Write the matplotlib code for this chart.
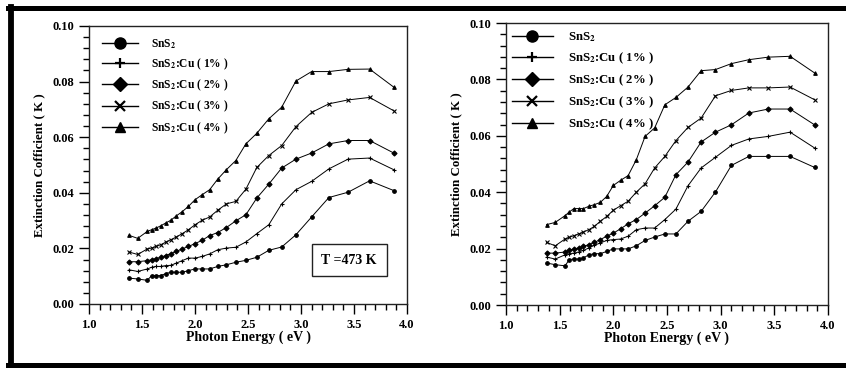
import matplotlib.pyplot as plt
from matplotlib.lines import Line2D
from matplotlib.ticker import MultipleLocator

plt.rcParams['font.family'] = 'Liberation Serif'
plt.rcParams['font.weight'] = 'bold'
plt.rcParams['mathtext.fontset'] = 'stix'
plt.rcParams['mathtext.default'] = 'bf'

# Photon energy (eV), shared by all curves
energy = [1.378, 1.459, 1.550, 1.590, 1.632, 1.676, 1.722, 1.771, 1.824, 1.879,
          1.938, 2.000, 2.067, 2.138, 2.214, 2.296, 2.385, 2.480, 2.583, 2.696,
          2.818, 2.952, 3.100, 3.263, 3.444, 3.647, 3.875]

labels = ['SnS$_2$', 'SnS$_2$:Cu ( 1% )', 'SnS$_2$:Cu ( 2% )',
          'SnS$_2$:Cu ( 3% )', 'SnS$_2$:Cu ( 4% )']
markers = ['o', '+', 'D', 'x', '^']

# left panel (T = 473 K)
k_left_0 = [0.0093, 0.0090, 0.0085, 0.0102, 0.0102, 0.0102, 0.0109, 0.0114, 0.0114, 0.0114,
            0.0120, 0.0126, 0.0126, 0.0126, 0.0135, 0.0141, 0.0150, 0.0157, 0.0168, 0.0193,
            0.0205, 0.0249, 0.0313, 0.0383, 0.0402, 0.0443, 0.0408]
k_left_1 = [0.0123, 0.0117, 0.0126, 0.0132, 0.0135, 0.0135, 0.0138, 0.0139, 0.0147, 0.0156,
            0.0165, 0.0165, 0.0171, 0.0180, 0.0195, 0.0201, 0.0204, 0.0223, 0.0253, 0.0285,
            0.0360, 0.0411, 0.0441, 0.0486, 0.0521, 0.0525, 0.0483]
k_left_2 = [0.0152, 0.0152, 0.0156, 0.0159, 0.0163, 0.0168, 0.0174, 0.0181, 0.0189, 0.0198,
            0.0207, 0.0217, 0.0229, 0.0246, 0.0257, 0.0275, 0.0299, 0.0321, 0.0381, 0.0431,
            0.0489, 0.0521, 0.0543, 0.0576, 0.0588, 0.0588, 0.0543]
k_left_3 = [0.0187, 0.0178, 0.0198, 0.0201, 0.0207, 0.0213, 0.0222, 0.0231, 0.0241, 0.0253,
            0.0267, 0.0285, 0.0301, 0.0313, 0.0337, 0.0360, 0.0369, 0.0413, 0.0491, 0.0534,
            0.0570, 0.0638, 0.0689, 0.0720, 0.0734, 0.0743, 0.0695]
k_left_4 = [0.0247, 0.0236, 0.0261, 0.0267, 0.0273, 0.0281, 0.0291, 0.0301, 0.0317, 0.0332,
            0.0351, 0.0375, 0.0393, 0.0411, 0.0449, 0.0483, 0.0516, 0.0576, 0.0614, 0.0666,
            0.0708, 0.0802, 0.0836, 0.0836, 0.0844, 0.0845, 0.0780]

# right panel
k_right_0 = [0.0149, 0.0143, 0.0139, 0.0161, 0.0163, 0.0163, 0.0167, 0.0178, 0.0182, 0.0182,
             0.0190, 0.0199, 0.0199, 0.0199, 0.0210, 0.0229, 0.0241, 0.0252, 0.0252, 0.0297,
             0.0332, 0.0401, 0.0495, 0.0527, 0.0527, 0.0527, 0.0488]
k_right_1 = [0.0170, 0.0163, 0.0178, 0.0182, 0.0184, 0.0188, 0.0194, 0.0202, 0.0212, 0.0220,
             0.0229, 0.0232, 0.0234, 0.0244, 0.0267, 0.0273, 0.0273, 0.0303, 0.0340, 0.0423,
             0.0486, 0.0524, 0.0566, 0.0589, 0.0598, 0.0613, 0.0557]
k_right_2 = [0.0184, 0.0184, 0.0188, 0.0194, 0.0199, 0.0202, 0.0208, 0.0214, 0.0222, 0.0232,
             0.0244, 0.0255, 0.0270, 0.0288, 0.0303, 0.0326, 0.0352, 0.0382, 0.0462, 0.0507,
             0.0578, 0.0613, 0.0639, 0.0681, 0.0695, 0.0695, 0.0639]
k_right_3 = [0.0222, 0.0210, 0.0234, 0.0240, 0.0246, 0.0252, 0.0259, 0.0267, 0.0279, 0.0297,
             0.0314, 0.0336, 0.0352, 0.0368, 0.0400, 0.0430, 0.0486, 0.0527, 0.0583, 0.0630,
             0.0663, 0.0742, 0.0761, 0.0770, 0.0770, 0.0773, 0.0728]
k_right_4 = [0.0285, 0.0293, 0.0317, 0.0330, 0.0342, 0.0342, 0.0342, 0.0350, 0.0356, 0.0364,
             0.0385, 0.0424, 0.0442, 0.0459, 0.0515, 0.0598, 0.0628, 0.0710, 0.0736, 0.0773,
             0.0831, 0.0835, 0.0856, 0.0870, 0.0879, 0.0882, 0.0823]

left_series = [k_left_0, k_left_1, k_left_2, k_left_3, k_left_4]
right_series = [k_right_0, k_right_1, k_right_2, k_right_3, k_right_4]

fig = plt.figure(figsize=(8.46, 3.69), dpi=100)
ax1 = fig.add_axes([0.1052, 0.1762, 0.3759, 0.7534])
ax2 = fig.add_axes([0.5981, 0.1734, 0.3806, 0.7642])


def style_axis(ax):
    ax.set_xlim(1.0, 4.0)
    ax.set_ylim(0.0, 0.10)
    ax.xaxis.set_major_locator(MultipleLocator(0.5))
    ax.xaxis.set_minor_locator(MultipleLocator(0.1))
    ax.yaxis.set_major_locator(MultipleLocator(0.02))
    ax.yaxis.set_minor_locator(MultipleLocator(0.004))
    ax.xaxis.set_major_formatter('{x:.1f}')
    ax.yaxis.set_major_formatter('{x:.2f}')
    ax.tick_params(which='both', direction='out', top=False, right=False,
                   labelsize=9, width=1.0)
    ax.tick_params(which='major', length=7.5, pad=3)
    ax.tick_params(which='minor', length=4)
    for s in ax.spines.values():
        s.set_linewidth(1.0)
        s.set_color('#222222')
    ax.set_xlabel('Photon Energy ( eV )', fontsize=10, fontweight='bold', labelpad=0)
    ax.set_ylabel('Extinction Cofficient ( K )', fontsize=9.3, fontweight='bold', labelpad=5)


for ax, series in [(ax1, left_series), (ax2, right_series)]:
    for k, m in zip(series, markers):
        ax.plot(energy, k, color='black', lw=0.7, marker=m, markersize=2.6,
                markeredgewidth=0.8)
    style_axis(ax)

handles = [Line2D([], [], color='black', lw=1.0, marker=m,
                  markersize=8 if m == 'o' else 7,
                  markeredgewidth=1.6 if m in '+x' else 1.0)
           for m in markers]

ax1.legend(handles, labels, loc='upper left', bbox_to_anchor=(0.02, 0.985),
           frameon=False, fontsize=8.3, handlelength=3.1, handletextpad=1.1,
           labelspacing=0.5, borderaxespad=0.2)
ax2.legend(handles, labels, loc='upper left', bbox_to_anchor=(-0.005, 1.0),
           frameon=False, fontsize=9.2, handlelength=3.2, handletextpad=1.2,
           labelspacing=0.5, borderaxespad=0.2)

ax1.text(0.818, 0.158, 'T =473 K', transform=ax1.transAxes, ha='center', va='center',
         fontsize=10, fontweight='bold',
         bbox=dict(boxstyle='square,pad=0.7', fc='white', ec='#222222', lw=1.0))

# black frame around the figure
fig.add_artist(Line2D([11 / 846, 11 / 846], [1 - 7 / 369, 1 - 365 / 369],
                      transform=fig.transFigure, color='black', lw=4.2))
fig.add_artist(Line2D([8 / 846, 1.0], [1 - 7.5 / 369, 1 - 7.5 / 369],
                      transform=fig.transFigure, color='black', lw=3.6))
fig.add_artist(Line2D([8 / 846, 1.0], [1 - 364.5 / 369, 1 - 364.5 / 369],
                      transform=fig.transFigure, color='black', lw=3.6))

fig.savefig('out.png', dpi=100)
